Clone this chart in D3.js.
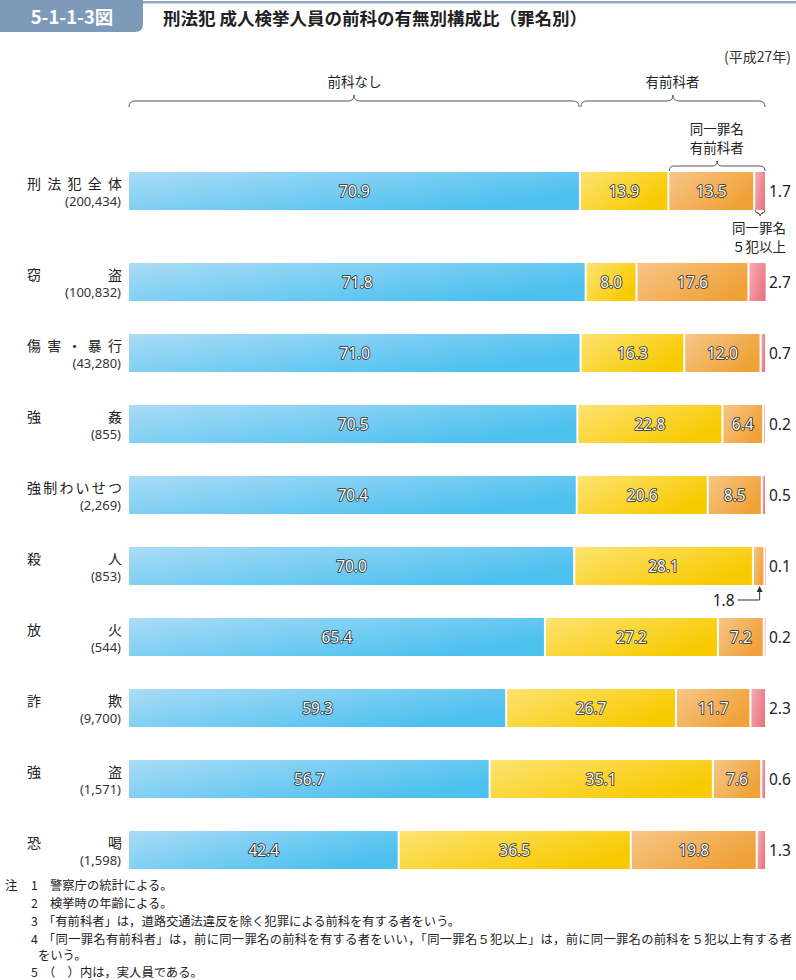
<!DOCTYPE html>
<html><head><meta charset="utf-8">
<script src="https://cdn.jsdelivr.net/npm/d3@7"></script>
<style>
body{margin:0;background:#fff;}
svg{display:block;font-family:"Noto Sans CJK JP","Noto Sans",sans-serif;}
</style></head>
<body>
<svg id="chart" width="796" height="980"></svg>
<script>
// ---- data ----
const categories = ["刑法犯全体","窃盗","傷害・暴行","強姦","強制わいせつ","殺人","放火","詐欺","強盗","恐喝"];
const counts = ["(200,434)","(100,832)","(43,280)","(855)","(2,269)","(853)","(544)","(9,700)","(1,571)","(1,598)"];
const noPrior   = [70.9,71.8,71.0,70.5,70.4,70.0,65.4,59.3,56.7,42.4];
const otherPrior= [13.9, 8.0,16.3,22.8,20.6,28.1,27.2,26.7,35.1,36.5];
const samePrior = [13.5,17.6,12.0, 6.4, 8.5, 1.8, 7.2,11.7, 7.6,19.8];
const same5     = [ 1.7, 2.7, 0.7, 0.2, 0.5, 0.1, 0.2, 2.3, 0.6, 1.3];
const seriesNames = ["前科なし","有前科者（同一罪名以外）","同一罪名有前科者","同一罪名５犯以上"];
const notes = [
  ["注","1","警察庁の統計による。"],
  ["","2","検挙時の年齢による。"],
  ["","3","「有前科者」は，道路交通法違反を除く犯罪による前科を有する者をいう。"],
  ["","4","「同一罪名有前科者」は，前に同一罪名の前科を有する者をいい，「同一罪名５犯以上」は，前に同一罪名の前科を５犯以上有する者"],
  ["","","をいう。"],
  ["","5","（　）内は，実人員である。"]
];

const svg = d3.select("#chart");
const W = 796;

// ---- gradients ----
const grads = [
  ["#aadcf6","#4cc0ef"],
  ["#fde372","#f8ca00"],
  ["#f7c688","#f0a137"],
  ["#f5adb3","#e97783"]
];
const defs = svg.append("defs");
grads.forEach((g,i)=>{
  const lg = defs.append("linearGradient").attr("id","g"+i)
    .attr("x1","0").attr("y1","0").attr("x2","1").attr("y2","0.6");
  lg.append("stop").attr("offset","0").attr("stop-color",g[0]);
  lg.append("stop").attr("offset","1").attr("stop-color",g[1]);
});

// ---- header ----
const hdrColor = "#7d9ab8";
svg.append("rect").attr("x",0).attr("y",1).attr("width",W).attr("height",2.5).attr("fill","#8fa8c2");
svg.append("path").attr("d","M0,0 H143 V24 Q143,32 135,32 H0 Z").attr("fill",hdrColor);
svg.append("text").attr("x",72).attr("y",24).attr("text-anchor","middle")
  .attr("fill","#fff").attr("font-size",18.5).attr("font-weight","bold").text("5-1-1-3図");
svg.append("text").attr("x",163).attr("y",25).attr("fill","#222")
  .attr("font-size",17.5).attr("font-weight","bold").text("刑法犯 成人検挙人員の前科の有無別構成比（罪名別）");
svg.append("text").attr("x",791).attr("y",62).attr("text-anchor","end")
  .attr("fill","#333").attr("font-size",14).text("(平成27年)");

// ---- scales ----
const x = d3.scaleLinear().domain([0,100]).range([129,765]);
const rowScale = d3.scaleLinear().domain([1,9]).range([263,831]);
const firstRowTop = 172;
const rowTop = i => i===0 ? firstRowTop : rowScale(i);
const barH = 38;

const data = categories.map((c,i)=>{
  const vals=[noPrior[i],otherPrior[i],samePrior[i],same5[i]];
  let acc=0;
  const segs = vals.map((v,k)=>{const s={k,v,x0:acc,x1:acc+v}; acc+=v; return s;});
  return {c,i,segs,count:counts[i]};
});

// ---- braces ----
function braceUp(x0,x1,y,d,mid){
  mid = mid===undefined ? (x0+x1)/2 : mid;
  return `M${x0},${y+d} Q${x0},${y} ${x0+d},${y} L${mid-d},${y} Q${mid},${y} ${mid},${y-d} Q${mid},${y} ${mid+d},${y} L${x1-d},${y} Q${x1},${y} ${x1},${y+d}`;
}
function braceDown(x0,x1,y,d){
  const mid=(x0+x1)/2;
  return `M${x0},${y-d} Q${x0},${y} ${x0+d},${y} L${mid-d},${y} Q${mid},${y} ${mid},${y+d} Q${mid},${y} ${mid+d},${y} L${x1-d},${y} Q${x1},${y} ${x1},${y-d}`;
}
const braceStyle = s => s.attr("fill","none").attr("stroke","#555").attr("stroke-width",1);
const bx0 = x(0), bxSplit = x(noPrior[0]), bxEnd = x(100);
braceStyle(svg.append("path").attr("d",braceUp(bx0,bxSplit-1,101,6)));
braceStyle(svg.append("path").attr("d",braceUp(bxSplit+1,bxEnd,101,6)));
svg.append("text").attr("x",(bx0+bxSplit)/2).attr("y",87).attr("text-anchor","middle").attr("font-size",13.5).attr("fill","#222").text("前科なし");
svg.append("text").attr("x",(bxSplit+bxEnd)/2).attr("y",87).attr("text-anchor","middle").attr("font-size",13.5).attr("fill","#222").text("有前科者");

const sx0 = x(noPrior[0]+otherPrior[0]);
braceStyle(svg.append("path").attr("d",braceUp(sx0+1,bxEnd,166,5)));
svg.append("text").attr("x",(sx0+bxEnd)/2).attr("y",134).attr("text-anchor","middle").attr("font-size",13.5).attr("fill","#222").text("同一罪名");
svg.append("text").attr("x",(sx0+bxEnd)/2).attr("y",153).attr("text-anchor","middle").attr("font-size",13.5).attr("fill","#222").text("有前科者");

const px0 = x(100-same5[0]);
braceStyle(svg.append("path").attr("d",braceDown(px0+1,bxEnd,213,3)));
svg.append("text").attr("x",786).attr("y",233).attr("text-anchor","end").attr("font-size",13.5).attr("fill","#222").text("同一罪名");
svg.append("text").attr("x",786).attr("y",252).attr("text-anchor","end").attr("font-size",13.5).attr("fill","#222").text("５犯以上");

// ---- rows ----
const rows = svg.append("g").selectAll("g.row").data(data).join("g").attr("class","row")
  .attr("transform",d=>`translate(0,${rowTop(d.i)})`);

rows.selectAll("rect").data(d=>d.segs).join("rect")
  .attr("x",s=>x(s.x0)+(s.k>0?1:0))
  .attr("y",0)
  .attr("height",barH)
  .attr("width",s=>Math.max(0.6, x(s.x1)-x(s.x0)-(s.k>0?1:0)-(s.k<3?1:0)))
  .attr("fill",s=>`url(#g${s.k})`);

// in-bar labels
rows.selectAll("text.val").data(d=>d.segs.filter(s=>s.k<3 && s.v>=5)).join("text").attr("class","val")
  .attr("x",s=>(x(s.x0)+x(s.x1))/2)
  .attr("y",barH/2+5.5)
  .attr("text-anchor","middle")
  .attr("font-family","'Noto Sans','Open Sans',sans-serif")
  .attr("font-size",15.5)
  .attr("fill","#fff").attr("stroke","#2b2b2b").attr("stroke-width",1.7)
  .attr("paint-order","stroke").attr("stroke-linejoin","round")
  .text(s=>s.v.toFixed(1));

// outside label for last segment
rows.append("text")
  .attr("x",x(100)+4).attr("y",barH/2+5.5)
  .attr("font-family","'Noto Sans','Open Sans',sans-serif")
  .attr("font-size",15.5).attr("fill","#222")
  .text(d=>d.segs[3].v.toFixed(1));

// small segment callout (e.g. 1.8)
rows.each(function(d){
  const s = d.segs[2];
  if (s.v < 5){
    const g = d3.select(this);
    const cx = (x(s.x0)+x(s.x1))/2 + 1;
    g.append("path").attr("d",`M${cx-22},${barH+15} H${cx} V${barH+3}`)
      .attr("fill","none").attr("stroke","#333").attr("stroke-width",1);
    g.append("path").attr("d",`M${cx-3},${barH+7} L${cx},${barH+1} L${cx+3},${barH+7} Z`).attr("fill","#333");
    g.append("text").attr("x",cx-25).attr("y",barH+20.5).attr("text-anchor","end")
      .attr("font-family","'Noto Sans','Open Sans',sans-serif")
      .attr("font-size",15.5).attr("fill","#222").text(s.v.toFixed(1));
  }
});

// category labels (justified)
const labL = 27, labR = 122;
rows.each(function(d){
  const g = d3.select(this);
  const chars = Array.from(d.c);
  const fs = 14;
  const n = chars.length;
  chars.forEach((ch,j)=>{
    const cxp = n===1 ? labR - fs/2 : labL + fs/2 + j*((labR-labL-fs)/(n-1));
    g.append("text").attr("x",cxp).attr("y",17).attr("text-anchor","middle")
      .attr("font-size",fs).attr("fill","#222").text(ch);
  });
  g.append("text").attr("x",121).attr("y",34).attr("text-anchor","end")
    .attr("font-family","'Noto Sans','Open Sans',sans-serif")
    .attr("font-size",13).attr("fill","#333").text(d.count);
});

// ---- notes ----
const noteY = [890,908,926,944,960,977];
const ng = svg.append("g").attr("font-size",12.3).attr("fill","#222");
notes.forEach((n,i)=>{
  ng.append("text").attr("x",5).attr("y",noteY[i]).text(n[0]);
  ng.append("text").attr("x",31).attr("y",noteY[i]).text(n[1]);
  const tx = n[1]==="" ? 38 : (n[2].startsWith("「")||n[2].startsWith("（") ? 43 : 50);
  const t = ng.append("text").attr("x",tx).attr("y",noteY[i]).text(n[2]);
  if (n[2].length > 50) {
    t.attr("textLength", 792 - tx).attr("lengthAdjust","spacing");
  }
});
</script>
</body></html>
